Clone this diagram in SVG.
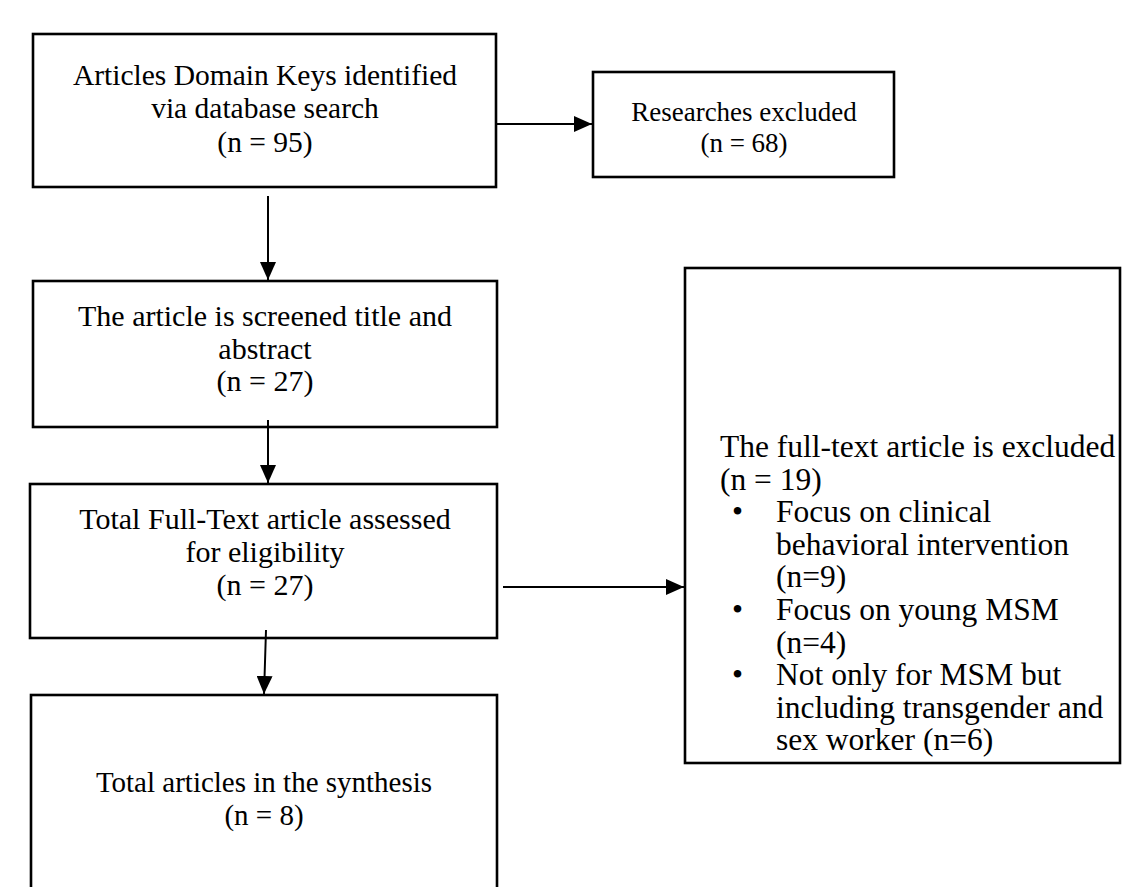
<svg xmlns="http://www.w3.org/2000/svg" width="1143" height="887" viewBox="0 0 1143 887">
<defs>
<style>
.box{fill:#fff;stroke:#000;stroke-width:2.6}
.t{font-family:"Liberation Serif","Times New Roman",serif;font-size:30px;fill:#000}
.c{text-anchor:middle}
.b5{font-size:31.5px}
.ln{stroke:#000;stroke-width:2;fill:none;marker-end:url(#ah)}
</style>
<marker id="ah" markerUnits="userSpaceOnUse" markerWidth="18" markerHeight="16" viewBox="0 0 18 16" refX="18" refY="8" orient="auto">
<path d="M0,0 L18,8 L0,16 Z" fill="#000"/>
</marker>
</defs>
<rect width="1143" height="887" fill="#fff"/>
<g id="n1">
<rect class="box" x="33" y="34" width="463" height="153"/>
<text class="t c" x="265" y="85" style="font-size:29.5px">Articles Domain Keys identified</text>
<text class="t c" x="265" y="118" style="font-size:29.5px">via database search</text>
<text class="t c" x="265" y="152" style="font-size:29.5px">(n = 95)</text>
</g>
<g id="n2">
<rect class="box" x="593" y="72" width="301" height="105"/>
<text class="t c" x="744" y="121" style="font-size:27px">Researches excluded</text>
<text class="t c" x="744" y="152" style="font-size:27px">(n = 68)</text>
</g>
<g id="n3">
<rect class="box" x="33" y="281" width="464" height="146"/>
<text class="t c" x="265" y="326">The article is screened title and</text>
<text class="t c" x="265" y="359">abstract</text>
<text class="t c" x="265" y="391">(n = 27)</text>
</g>
<g id="n4">
<rect class="box" x="30" y="484" width="467" height="154"/>
<text class="t c" x="265" y="529">Total Full-Text article assessed</text>
<text class="t c" x="265" y="562">for eligibility</text>
<text class="t c" x="265" y="595">(n = 27)</text>
</g>
<g id="n5">
<rect class="box" x="685" y="268" width="435" height="495"/>
<text class="t b5" x="720" y="457">The full-text article is excluded</text>
<text class="t b5" x="720" y="490">(n = 19)</text>
<text class="t b5" x="732" y="522">•</text>
<text class="t b5" x="776" y="522">Focus on clinical</text>
<text class="t b5" x="776" y="555">behavioral intervention</text>
<text class="t b5" x="776" y="587">(n=9)</text>
<text class="t b5" x="732" y="620">•</text>
<text class="t b5" x="776" y="620">Focus on young MSM</text>
<text class="t b5" x="776" y="653">(n=4)</text>
<text class="t b5" x="732" y="685">•</text>
<text class="t b5" x="776" y="685">Not only for MSM but</text>
<text class="t b5" x="776" y="718">including transgender and</text>
<text class="t b5" x="776" y="750">sex worker (n=6)</text>
</g>
<g id="n6">
<rect class="box" x="31" y="695" width="466" height="210"/>
<text class="t c" x="264" y="792" style="font-size:29px">Total articles in the synthesis</text>
<text class="t c" x="264" y="825" style="font-size:29px">(n = 8)</text>
</g>
<g id="connectors">
<line class="ln" x1="497" y1="124" x2="592" y2="124"/>
<line class="ln" x1="268" y1="196" x2="268" y2="280"/>
<line class="ln" x1="268" y1="420" x2="268" y2="483"/>
<line class="ln" x1="503" y1="587" x2="684" y2="587"/>
<line class="ln" x1="266" y1="630" x2="264" y2="694"/>
</g>
</svg>
